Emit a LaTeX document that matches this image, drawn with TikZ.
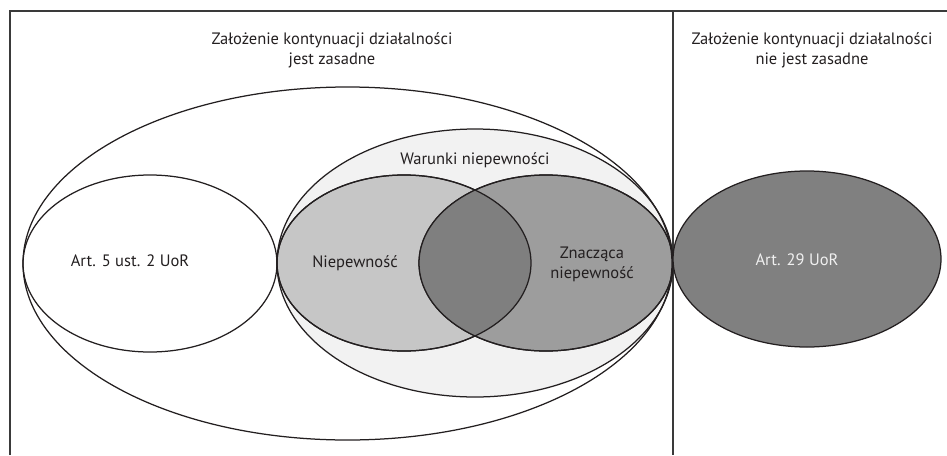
\documentclass[tikz,border=0pt]{standalone}
\usepackage{fontspec}
\setmainfont{PT Sans}
\usetikzlibrary{shapes.geometric}
\definecolor{ink}{HTML}{231F20}
\definecolor{framegray}{HTML}{3A3A3A}
\definecolor{warfill}{HTML}{F2F2F2}
\definecolor{niepfill}{HTML}{C6C6C6}
\definecolor{znfill}{HTML}{9D9D9D}
\definecolor{both}{HTML}{7F7F7F}
\definecolor{art29fill}{HTML}{808080}
\begin{document}
\begin{tikzpicture}[x=1pt,y=-1pt,
  set/.style={ellipse,draw=ink,line width=1.25pt,inner sep=0pt,outer sep=0pt},
  lbl/.style={font=\fontsize{16.5}{20}\selectfont,text=ink,align=center,inner sep=0pt},
  frame/.style={draw=framegray,line width=1.5pt}]
\useasboundingbox (0,0) rectangle (947,455);

% outer frame and divider
\coordinate (tl) at (10,455);
\coordinate (tc) at (10,11);
\coordinate (tr) at (947,11);
\coordinate (dtop) at (673,11);
\coordinate (dbot) at (673,455);
\draw[frame] (tl) -- (tc) -- (tr);
\draw[frame] (dtop) -- (dbot);

% headings
\node[lbl] (hleft) at (332,50) {Założenie kontynuacji działalności\\jest zasadne};
\node[lbl] (hright) at (812,50) {Założenie kontynuacji działalności\\nie jest zasadne};

% uncertainty sets
\node[set,fill=warfill,minimum width=396pt,minimum height=268pt] (war) at (475,263) {};
\node[set,fill=niepfill,minimum width=254pt,minimum height=176pt] (niep) at (404,263) {};
\node[set,fill=znfill,minimum width=254pt,minimum height=176pt] (zn) at (546,263) {};
\begin{scope}
  \clip (niep.center) ellipse [x radius=127, y radius=88];
  \fill[both] (zn.center) ellipse [x radius=127, y radius=88];
\end{scope}
\draw[ink,line width=1.25pt] (niep.center) ellipse [x radius=127, y radius=88];
\draw[ink,line width=1.25pt] (zn.center) ellipse [x radius=127, y radius=88];

% going-concern sets
\node[set,minimum width=254pt,minimum height=177pt] (art5) at (150,263.5) {};
\node[set,minimum width=649pt,minimum height=353pt] (all) at (347.5,263.5) {};
\node[set,fill=art29fill,minimum width=268pt,minimum height=176pt] (art29) at (807,259) {};

% labels
\node[lbl] (tart5) at (130,261) {Art. 5 ust. 2 UoR};
\node[lbl] (twar) at (475,160) {Warunki niepewności};
\node[lbl] (tniep) at (355,263) {Niepewność};
\node[lbl] (tzn) at (592,264) {Znacząca\\niepewność};
\node[lbl,text=white!94!black] (tart29) at (797,260) {Art. 29 UoR};
\end{tikzpicture}
\end{document}
